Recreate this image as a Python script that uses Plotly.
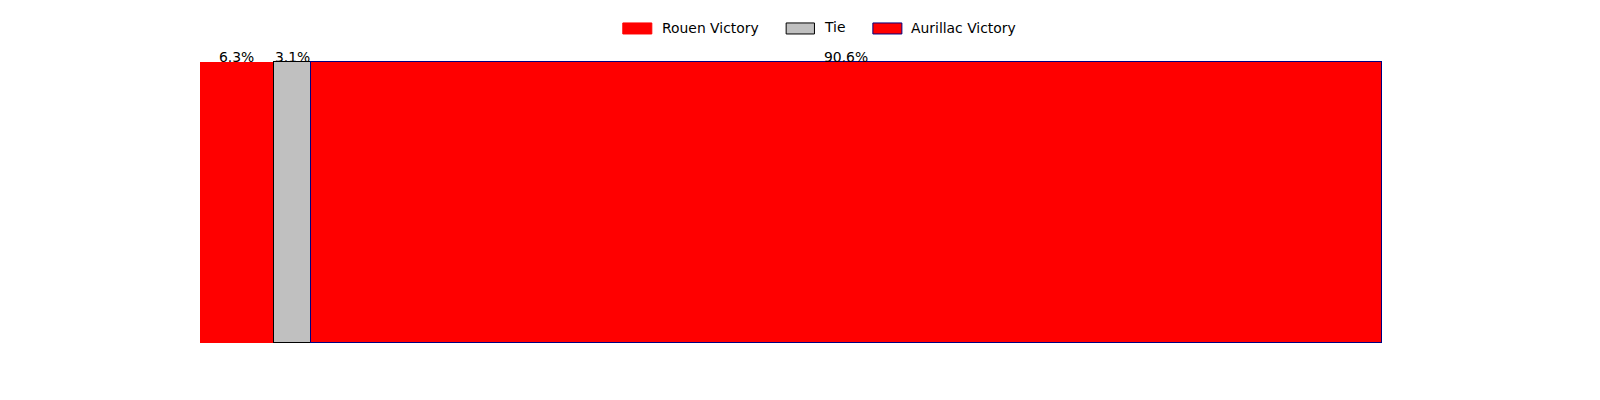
import plotly.graph_objects as go

categories = ["Rouen Victory", "Tie", "Aurillac Victory"]
values = [6.25, 3.125, 90.625]
labels = ["6.3%", "3.1%", "90.6%"]
fills = ["#ff0000", "#c0c0c0", "#ff0000"]
edges = ["rgba(0,0,0,0)", "#000000", "#000080"]
edge_w = [0, 1, 1]

W, H = 1600, 400
OFF = 8          # page body margin offset
PAD = 2          # extra px so bar outlines are not clipped
L, R, T, B = 200, 1381.7, 62, 342.7   # target bar box in page pixels
FONT = dict(family="DejaVu Sans", size=13.9, color="black")

pl = L - OFF - PAD
pr = R - OFF + PAD
pt = T - OFF - PAD
pb = B - OFF + PAD
ux = 100 / (R - L)
uy = 1 / (B - T)

fig = go.Figure()
for c, v, f, e, w in zip(categories, values, fills, edges, edge_w):
    fig.add_trace(go.Bar(x=[v], y=[0], orientation="h", width=1, name=c,
                         marker=dict(color=f, line=dict(color=e, width=w)),
                         showlegend=False, hoverinfo="skip"))

# percentage labels centred above each segment
start = 0
for v, lab in zip(values, labels):
    fig.add_annotation(x=start + v / 2, y=0.5, xref="x", yref="y", text=lab,
                       showarrow=False, xanchor="center", yanchor="bottom",
                       yshift=-5, font=FONT)
    start += v

# custom legend (matplotlib style patches), positions in page pixels
def px(xp):
    return (xp - OFF - pl) / (pr - pl)
def py(yp):
    return (pb - (yp - OFF)) / (pb - pt)

patches = [(622.7, 651.7, 662.7, 28.3), (786, 814.3, 825, 27.5), (872.7, 901.7, 912.3, 28.3)]
for (x0, x1, tx, ty), c, f, e, w in zip(patches, categories, fills, edges, edge_w):
    fig.add_shape(type="rect", xref="paper", yref="paper",
                  x0=px(x0), x1=px(x1), y0=py(34), y1=py(23),
                  fillcolor=f, line=dict(color=e if w else f, width=1))
    fig.add_annotation(x=px(tx), y=py(ty), xref="paper", yref="paper",
                       text=c, showarrow=False, xanchor="left", yanchor="middle",
                       xshift=-3, font=FONT)

fig.update_layout(
    width=W, height=H, barmode="stack", bargap=0,
    margin=dict(l=pl, r=W - pr, t=pt, b=H - pb, pad=0),
    plot_bgcolor="white", paper_bgcolor="white",
    xaxis=dict(range=[-PAD * ux, 100 + PAD * ux], visible=False, fixedrange=True),
    yaxis=dict(range=[-0.5 - PAD * uy, 0.5 + PAD * uy], visible=False, fixedrange=True),
    font=FONT,
)
fig.write_html("out.html")
